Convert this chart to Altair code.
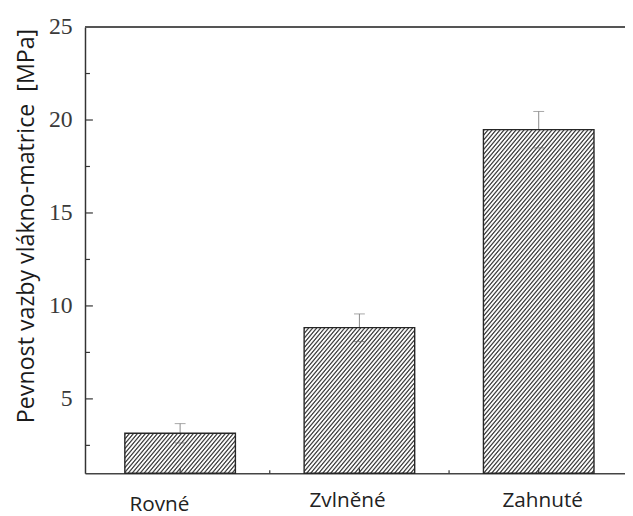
import math
import altair as alt
import pandas as pd

# ---- data ----
categories = ["Rovné", "Zvlněné", "Zahnuté"]
strength = [3.15, 8.83, 19.48]          # MPa
std_err = [0.52, 0.74, 0.98]            # MPa
y_label_values = [5, 10, 15, 20, 25]
y_major_ticks = [5, 10, 15, 20]
y_minor_ticks = [2.5, 7.5, 12.5, 17.5, 22.5]
x_minor_ticks = [1.5, 2.5]

TITLE = "Pevnost vazby vlákno-matrice\u00a0\u00a0[MPa]"

# ---- layout / style ----
Y_MIN, Y_MAX = 1, 25
PLOT_W, PLOT_H = 547, 452
STEP_PX = 185
BAR_W = 112
X_DOMAIN = [0.497, 0.497 + PLOT_W / STEP_PX]
PX_PER_UNIT = PLOT_H / (Y_MAX - Y_MIN)

df = pd.DataFrame({"cat": categories, "val": strength, "err": std_err})
df["idx"] = range(1, len(df) + 1)
df["lo"] = df["val"] - df["err"]
df["hi"] = df["val"] + df["err"]

x_scale = alt.Scale(domain=X_DOMAIN, nice=False, zero=False)
y_scale = alt.Scale(domain=[Y_MIN, Y_MAX], nice=False, zero=False)

xax = alt.Axis(title=None, labels=False, ticks=False, grid=False,
               domainColor="#444444", domainWidth=1.5)
yax = alt.Axis(title=TITLE, values=y_label_values, ticks=False, tickSize=0,
               grid=False, domainColor="#333333", domainWidth=1.5,
               labelFont="Liberation Serif", labelFontSize=24, labelColor="#3a3a3a",
               labelPadding=13, labelBaseline="middle",
               titleFont="Open Sans", titleFontSize=23.5, titleFontWeight="normal",
               titleColor="#1a1a1a", titleAngle=270, titleAlign="center",
               titleBaseline="top", titleX=-71, titleY=201)


def hatch(w, h, angle=50, spacing=3.1, frac=0.42, dark="#484848", light="#fbfbfb"):
    """Linear gradient (objectBoundingBox units) that draws '////' stripes."""
    th = math.radians(angle)
    s, c = math.sin(th), math.cos(th)
    fmax = w * s + h * c
    k = fmax / (w * w * s * s + h * h * c * c)
    x2, y2 = k * w * s, k * h * c
    n = fmax / spacing
    N = int(math.ceil(n))
    r = 0.12
    stops = []
    last = 0.0
    def add(o, col):
        nonlocal last
        o = min(max(o, last), 1.0)
        last = o
        stops.append({"offset": o, "color": col})
    for i in range(N):
        add((i + r) / n, dark)
        add((i + frac - r) / n, dark)
        add((i + frac + r) / n, light)
        add((i + 1 - r) / n, light)
    return {"gradient": "linear", "x1": 0, "y1": 0, "x2": x2, "y2": y2, "stops": stops}


base = alt.Chart(df)

err_rule = base.mark_rule(color="#8a8a8a", strokeWidth=1).encode(
    x=alt.X("idx:Q", scale=x_scale, axis=xax),
    y=alt.Y("lo:Q", scale=y_scale, axis=yax),
    y2="hi:Q",
)

bars = []
for c, v in zip(categories, strength):
    h = (v - Y_MIN) * PX_PER_UNIT
    bars.append(
        base.transform_filter(alt.datum.cat == c)
        .mark_bar(size=BAR_W, fill=hatch(BAR_W, h), stroke="#262626", strokeWidth=1.4)
        .encode(
            x=alt.X("idx:Q", scale=x_scale, axis=xax),
            y=alt.Y("val:Q", scale=y_scale, axis=yax),
            y2=alt.datum(Y_MIN),
        )
    )

cap_hi = base.mark_tick(orient="horizontal", size=11, thickness=1, color="#808080").encode(
    x=alt.X("idx:Q", scale=x_scale, axis=xax),
    y=alt.Y("hi:Q", scale=y_scale, axis=yax),
)
cap_lo = base.mark_tick(orient="horizontal", size=11, thickness=1, color="#666666").encode(
    x=alt.X("idx:Q", scale=x_scale, axis=xax),
    y=alt.Y("lo:Q", scale=y_scale, axis=yax),
)

ymaj = alt.Chart(pd.DataFrame({"v": y_major_ticks})).mark_rule(color="#333333", strokeWidth=1.2).encode(
    y=alt.Y("v:Q", scale=y_scale, axis=yax), x=alt.value(0), x2=alt.value(8))
ymin = alt.Chart(pd.DataFrame({"v": y_minor_ticks})).mark_rule(color="#333333", strokeWidth=1.2).encode(
    y=alt.Y("v:Q", scale=y_scale, axis=yax), x=alt.value(0), x2=alt.value(5))
xmaj = base.mark_rule(color="#333333", strokeWidth=1.2).encode(
    x=alt.X("idx:Q", scale=x_scale, axis=xax), y=alt.value(PLOT_H), y2=alt.value(PLOT_H - 5))
xmin = alt.Chart(pd.DataFrame({"v": x_minor_ticks})).mark_rule(color="#333333", strokeWidth=1.2).encode(
    x=alt.X("v:Q", scale=x_scale, axis=xax), y=alt.value(PLOT_H), y2=alt.value(PLOT_H - 3))

top_frame = alt.Chart(pd.DataFrame({"v": [Y_MAX]})).mark_rule(color="#555555", strokeWidth=2).encode(
    y=alt.Y("v:Q", scale=y_scale, axis=yax))

label_dx = {"Rovné": -21, "Zvlněné": -12, "Zahnuté": 4}
label_dy = {"Rovné": 4, "Zvlněné": 0, "Zahnuté": 0}
labels = []
for c in categories:
    labels.append(
        base.transform_filter(alt.datum.cat == c)
        .mark_text(font="Open Sans", fontSize=21, color="#222222", baseline="alphabetic",
                   align="center", dx=label_dx[c], dy=label_dy[c])
        .encode(x=alt.X("idx:Q", scale=x_scale, axis=xax), y=alt.value(PLOT_H + 34), text="cat:N")
    )

chart = alt.layer(
    err_rule, *bars, cap_hi, cap_lo, ymaj, ymin, xmaj, xmin, top_frame, *labels
).properties(
    width=PLOT_W,
    height=PLOT_H,
    padding={"left": 78, "top": 16, "right": 0, "bottom": 40},
    autosize=alt.AutoSizeParams(type="none"),
).configure_view(stroke=None)

chart.save("out.html", embed_options={"renderer": "svg", "actions": False})
